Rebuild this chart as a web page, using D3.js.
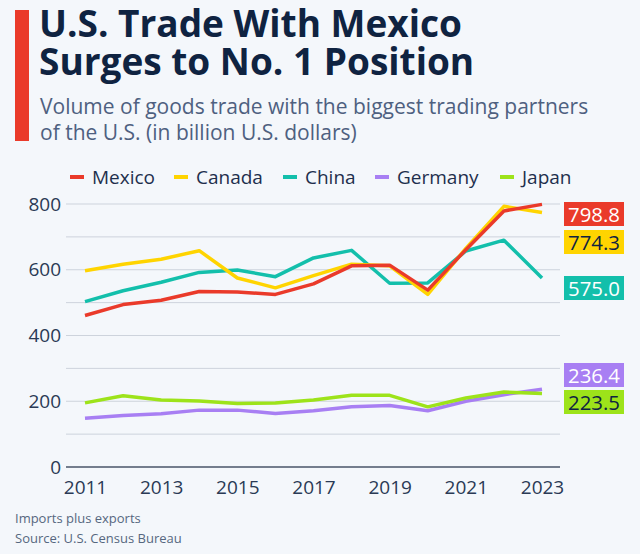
<!DOCTYPE html>
<html>
<head>
<meta charset="utf-8">
<script src="https://cdn.jsdelivr.net/npm/d3@7"></script>
<style>
  body { margin:0; background:#f4f7fb; }
  svg { display:block; font-family:"Open Sans", sans-serif; }
</style>
</head>
<body>
<div id="plot"></div>
<script>
// data (billion U.S. dollars)
var years = [2011,2012,2013,2014,2015,2016,2017,2018,2019,2020,2021,2022,2023];
var mexico  = [461,494,507,534,532,525,557,612,614,538,661,779,798.8];
var canada  = [597,617,632,658,575,545,582,617,612,525,665,793,774.3];
var china   = [503,536,562,592,599,579,636,659,559,560,657,690,575.0];
var germany = [148,157,162,173,173,163,171,183,187,171,200,220,236.4];
var japan   = [195,217,204,201,193,195,204,218,218,183,210,228,223.5];
var yTicks = [0,200,400,600,800];
var xTicks = [2011,2013,2015,2017,2019,2021,2023];

var series = [
  {name:'Mexico',  values:mexico,  color:'#ea3a2a', text:'#fff',    labelY:214},
  {name:'Canada',  values:canada,  color:'#ffd400', text:'#0f2341', labelY:242},
  {name:'China',   values:china,   color:'#13bfab', text:'#fff',    labelY:288},
  {name:'Germany', values:germany, color:'#a87ff3', text:'#fff',    labelY:375},
  {name:'Japan',   values:japan,   color:'#9de31a', text:'#0f2341', labelY:402}
];
var legendX = [70,174,283,375,500];

var W = 640, H = 554;
var svg = d3.select('#plot').append('svg').attr('width',W).attr('height',H);

svg.append('rect').attr('width',W).attr('height',H).attr('fill','#f4f7fb');

// title block
svg.append('rect').attr('x',15).attr('y',10).attr('width',14).attr('height',131).attr('fill','#ea3a2a');
var title = svg.append('text').attr('fill','#0f2341').attr('font-size',37).attr('font-weight',700);
title.append('tspan').attr('x',39).attr('y',37).text('U.S. Trade With Mexico');
title.append('tspan').attr('x',39).attr('y',75).text('Surges to No. 1 Position');
var sub = svg.append('text').attr('fill','#4e6080').attr('font-size',21);
sub.append('tspan').attr('x',40).attr('y',114).text('Volume of goods trade with the biggest trading partners');
sub.append('tspan').attr('x',40).attr('y',140).text('of the U.S. (in billion U.S. dollars)');

// legend
series.forEach(function(s,i){
  svg.append('rect').attr('x',legendX[i]).attr('y',175).attr('width',14).attr('height',4).attr('fill',s.color);
  svg.append('text').attr('x',legendX[i]+22).attr('y',184).attr('font-size',19)
    .attr('fill','#1e2f4d').text(s.name);
});

var x = d3.scaleLinear().domain([2011,2023]).range([85,542]);
var y = d3.scaleLinear().domain([0,800]).range([467,204]);

// grid
svg.append('g').selectAll('line').data([100,200,300,400,500,600,700,800]).enter().append('line')
  .attr('x1',66).attr('x2',560)
  .attr('y1',function(d){return y(d);}).attr('y2',function(d){return y(d);})
  .attr('stroke','#cdd3dc').attr('stroke-width',1);
svg.append('line').attr('x1',66).attr('x2',560).attr('y1',y(0)).attr('y2',y(0))
  .attr('stroke','#4a5568').attr('stroke-width',1.5);

// axes
var yAxis = svg.append('g').attr('transform','translate(61,0)')
  .call(d3.axisLeft(y).tickValues(yTicks).tickSize(0).tickPadding(0));
yAxis.select('.domain').remove();
yAxis.selectAll('text').attr('font-size',19).attr('fill','#2a3a55')
  .attr('font-family','"Open Sans", sans-serif');

var xAxis = svg.append('g').attr('transform','translate(0,'+(y(0)+10)+')')
  .call(d3.axisBottom(x).tickValues(xTicks).tickFormat(d3.format('d')).tickSize(0).tickPadding(0));
xAxis.select('.domain').remove();
xAxis.selectAll('text').attr('font-size',19).attr('fill','#2a3a55')
  .attr('font-family','"Open Sans", sans-serif').attr('dy','0.9em');

// lines, drawn back to front
var line = d3.line().x(function(d,i){return x(years[i]);}).y(function(d){return y(d);});
[3,4,2,1,0].forEach(function(i){
  var s = series[i];
  svg.append('path').datum(s.values).attr('d',line)
    .attr('fill','none').attr('stroke',s.color).attr('stroke-width',3.5)
    .attr('stroke-linejoin','round');
});

// end labels
series.forEach(function(s){
  var last = s.values[s.values.length-1];
  svg.append('rect').attr('x',564).attr('y',s.labelY-12).attr('width',60).attr('height',24).attr('fill',s.color);
  svg.append('text').attr('x',594).attr('y',s.labelY+7.5).attr('text-anchor','middle')
    .attr('font-size',20.5).attr('font-weight',500).attr('fill',s.text)
    .attr('textLength',52).attr('lengthAdjust','spacingAndGlyphs')
    .text(d3.format('.1f')(last));
});

// footnotes
svg.append('text').attr('x',15).attr('y',523).attr('font-size',13).attr('fill','#56677f').text('Imports plus exports');
svg.append('text').attr('x',15).attr('y',543).attr('font-size',13).attr('fill','#56677f').text('Source: U.S. Census Bureau');
</script>
</body>
</html>
